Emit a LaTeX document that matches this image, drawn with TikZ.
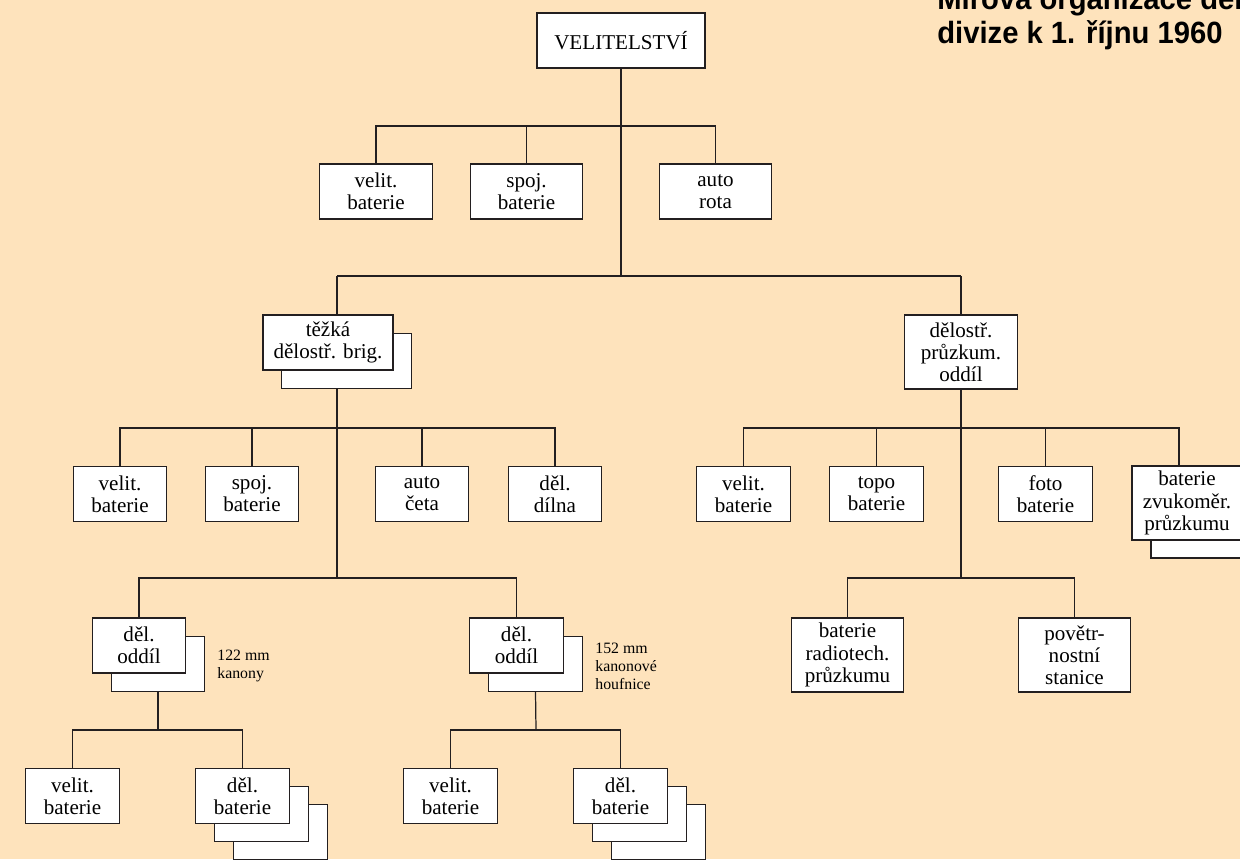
\documentclass[tikz,border=0pt]{standalone}
\usepackage{fontspec}
\setmainfont{Liberation Serif}
\newfontfamily\titlefont[FakeStretch=0.95]{Liberation Sans}
\definecolor{bg}{RGB}{254,227,188}
\definecolor{ln}{RGB}{35,31,32}
\begin{document}
\begin{tikzpicture}[x=0.02cm,y=-0.02cm,
  box/.style={draw=ln,fill=white,line width=0.7pt,minimum height=1.1cm,inner sep=0pt,align=center,
    font=\fontsize{12}{12.6}\selectfont},
  tall/.style={minimum height=1.48cm},
  wA/.style={minimum width=1.87cm},
  wB/.style={minimum width=2.25cm},
  conn/.style={draw=ln,line width=0.7pt},
  note/.style={anchor=west,align=left,inner sep=0pt,font=\fontsize{9}{10.3}\selectfont},
  ttl/.style={anchor=base west,inner sep=0pt,font=\titlefont\bfseries\fontsize{17.5}{20}\selectfont}]
\useasboundingbox (0,0) rectangle (1240,859);
\clip (0,0) rectangle (1240,859);
\fill[bg] (0,0) rectangle (1240,859);

% title
\node[ttl] (t1) at (937,9) {Mírová organizace dělostřelecké};
\node[ttl] (t2) at (937,43) {divize k 1. říjnu 1960};

% junction coordinates
\coordinate (j1) at (621,126);
\coordinate (j2) at (621,276);
\coordinate (jL) at (337,428);
\coordinate (jL2) at (337,578);
\coordinate (jR) at (961,428);
\coordinate (jR2) at (961,578);
\coordinate (jA) at (158,730);
\coordinate (jB) at (536,730);
\coordinate (cL) at (337,276);
\coordinate (cR) at (961,276);
\coordinate (zv) at (1179,466);

% top
\node[box,minimum width=3.36cm] (vel) at (621,40.5) {VELITELSTVÍ};
\node[box,wB] (a1) at (376,191.5) {velit.\\baterie};
\node[box,wB] (a2) at (526.5,191.5) {spoj.\\baterie};
\node[box,wB] (a3) at (715.5,191.5) {auto\\rota};

% heavy brigade
\node[box,minimum width=2.6cm] (tbB) at (346.5,361) {};
\node[box,minimum width=2.6cm] (tbF) at (328,342.5) {těžká\\dělostř. brig.};

% recon battalion
\node[box,wB,tall] (pr) at (961,352) {dělostř.\\průzkum.\\oddíl};

% left row 2
\node[box,wA] (l1) at (120,494) {velit.\\baterie};
\node[box,wA] (l2) at (252,494) {spoj.\\baterie};
\node[box,wA] (l3) at (422,494) {auto\\četa};
\node[box,wA] (l4) at (555,494) {děl.\\dílna};

% right row 2
\node[box,wA] (r1) at (743.5,494) {velit.\\baterie};
\node[box,wA] (r2) at (876.5,494) {topo\\baterie};
\node[box,wA] (r3) at (1045.5,494) {foto\\baterie};
\node[box,tall,minimum width=2.2cm] (r4B) at (1206,521) {};
\node[box,tall,minimum width=2.2cm] (r4F) at (1187,503) {baterie\\zvukoměr.\\průzkumu};

% left oddíly
\node[box,wA] (o1B) at (158,664) {};
\node[box,wA] (o1F) at (139,645.5) {děl.\\oddíl};
\node[note] (n1) at (217,666) {122 mm\\kanony};
\node[box,wA] (o2B) at (535.5,664) {};
\node[box,wA] (o2F) at (516.5,645.5) {děl.\\oddíl};
\node[note] (n2) at (595,666) {152 mm\\kanonové\\houfnice};

% right row 3
\node[box,wB,tall] (r5) at (847.5,655) {baterie\\radiotech.\\průzkumu};
\node[box,wB,tall] (r6) at (1074.5,655) {povětr-\\nostní\\stanice};

% bottom rows
\node[box,wA] (b1) at (72.5,796) {velit.\\baterie};
\node[box,wA] (b2C) at (280.5,832) {};
\node[box,wA] (b2B) at (261.5,814) {};
\node[box,wA] (b2F) at (242.5,796) {děl.\\baterie};
\node[box,wA] (b3) at (450.5,796) {velit.\\baterie};
\node[box,wA] (b4C) at (658.5,832) {};
\node[box,wA] (b4B) at (639.5,814) {};
\node[box,wA] (b4F) at (620.5,796) {děl.\\baterie};

% connectors
\draw[conn] (vel.south) -- (j2);
\draw[conn] (a1.north) |- (j1) -| (a3.north);
\draw[conn] (a2.north) -- (a2.north |- j1);
\draw[conn] (cL) -- (cR);
\draw[conn] (cL) -- (cL |- tbF.north);
\draw[conn] (cR) -- (pr.north);
\draw[conn] (jL |- tbB.south) -- (jL2);
\draw[conn] (l1.north) |- (jL) -| (l4.north);
\draw[conn] (l2.north) -- (l2.north |- jL);
\draw[conn] (l3.north) -- (l3.north |- jL);
\draw[conn] (pr.south) -- (jR2);
\draw[conn] (r1.north) |- (jR) -| (zv);
\draw[conn] (r2.north) -- (r2.north |- jR);
\draw[conn] (r3.north) -- (r3.north |- jR);
\draw[conn] (o1F.north) |- (jL2) -| (o2F.north);
\draw[conn] (r5.north) |- (jR2) -| (r6.north);
\draw[conn] (o1B.south) -- (jA);
\draw[conn] (b1.north) |- (jA) -| (b2F.north);
\draw[conn] (o2B.south) -- (jB);
\draw[conn] (b3.north) |- (jB) -| (b4F.north);
\end{tikzpicture}
\end{document}
